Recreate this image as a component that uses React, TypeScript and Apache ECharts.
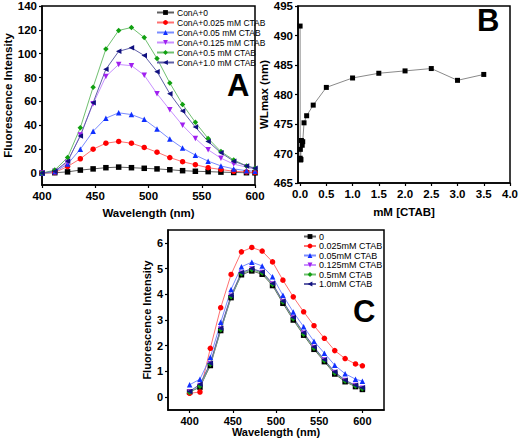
import React, { useEffect, useRef } from "react";
import * as echarts from "echarts";

// ---------- data ----------
const wavelengths = [400, 412, 424, 436, 448, 460, 472, 484, 496, 508, 520, 532, 544, 556, 568, 580, 592, 600];

const namesA = [
  "ConA+0",
  "ConA+0.025 mM CTAB",
  "ConA+0.05 mM CTAB",
  "ConA+0.125 mM CTAB",
  "ConA+0.5 mM CTAB",
  "ConA+1.0 mM CTAB",
];
const aConA0 = [0, 0.3, 1, 2.5, 3.5, 4.5, 5, 4.5, 4, 3.5, 2.8, 2, 1.5, 1.2, 0.8, 0.5, 0.3, 0.2];
const aCtab0025 = [0, 0.5, 5.5, 12, 20, 25, 26.5, 25, 21.5, 17.5, 13, 9.5, 7, 4.5, 3, 1.5, 1, 0.5];
const aCtab005 = [0, 1, 7.5, 20, 35, 46, 50.5, 49, 45, 37, 28.5, 21, 15, 10, 6, 3.5, 2, 1.5];
const aCtab0125 = [0, 1.5, 9, 32, 58, 81, 91, 90, 82, 66.5, 53, 40, 29, 19.5, 12.5, 7.5, 5, 3];
const aCtab05 = [0, 2.5, 13, 38, 72, 104, 119.5, 122, 113.5, 96, 75.5, 57.5, 42.5, 29, 18, 11, 6, 4];
const aCtab10 = [0, 1.5, 10, 31, 59, 87, 102, 105, 98.5, 85, 66.5, 52, 38.5, 26.5, 17, 10, 6, 4];

const ctabB = [0, 0.002, 0.005, 0.01, 0.015, 0.025, 0.04, 0.05, 0.075, 0.125, 0.25, 0.5, 1.0, 1.5, 2.0, 2.5, 3.0, 3.5];
const wlmaxB = [491.6, 469.2, 470.7, 468.9, 469.0, 472.2, 471.4, 472.0, 475.2, 476.4, 478.2, 481.2, 482.8, 483.6, 484.0, 484.4, 482.4, 483.4];

const namesC = ["0", "0.025mM CTAB", "0.05mM CTAB", "0.125mM CTAB", "0.5mM CTAB", "1.0mM CTAB"];
const c0 = [0.2, 0.39, 1.23, 2.59, 3.87, 4.76, 4.91, 4.78, 4.34, 3.65, 3.0, 2.41, 1.86, 1.38, 0.9, 0.6, 0.41, 0.3];
const c0025 = [0.15, 0.2, 1.9, 3.48, 4.77, 5.65, 5.82, 5.68, 5.26, 4.55, 3.9, 3.32, 2.78, 2.29, 1.81, 1.5, 1.29, 1.22];
const c005 = [0.48, 0.7, 1.55, 2.91, 4.19, 5.07, 5.25, 5.1, 4.68, 3.96, 3.31, 2.74, 2.17, 1.71, 1.24, 0.91, 0.7, 0.62];
const c0125 = [0.2, 0.45, 1.3, 2.65, 3.92, 4.82, 4.98, 4.85, 4.4, 3.72, 3.08, 2.48, 1.93, 1.44, 0.96, 0.65, 0.45, 0.35];
const c05 = [0.18, 0.42, 1.28, 2.62, 3.9, 4.8, 4.95, 4.83, 4.38, 3.7, 3.05, 2.45, 1.9, 1.42, 0.94, 0.63, 0.43, 0.33];
const c10 = [0.22, 0.5, 1.32, 2.68, 3.95, 4.85, 5.0, 4.87, 4.42, 3.73, 3.1, 2.5, 1.95, 1.45, 0.98, 0.66, 0.46, 0.37];

const xTicksA = [400, 450, 500, 550, 600];
const yTicksA = [0, 20, 40, 60, 80, 100, 120, 140];
const xTicksB = [0, 0.5, 1, 1.5, 2, 2.5, 3, 3.5, 4];
const yTicksB = [465, 470, 475, 480, 485, 490, 495];
const xTicksC = [400, 450, 500, 550, 600];
const yTicksC = [0, 1, 2, 3, 4, 5, 6];

// ---------- styles ----------
const styles = [
  { symbol: "rect", rotate: 0, color: "#000000", line: "#606060" },
  { symbol: "circle", rotate: 0, color: "#ff0000", line: "#ff7070" },
  { symbol: "triangle", rotate: 0, color: "#1030ff", line: "#7a8cff" },
  { symbol: "triangle", rotate: 180, color: "#a020f0", line: "#c890ff" },
  { symbol: "diamond", rotate: 0, color: "#10a010", line: "#70c070" },
  { symbol: "triangle", rotate: 90, color: "#101080", line: "#6060a8" },
];

const FONT = "'Liberation Sans', Arial, sans-serif";

function axisCommon(fontSize: number) {
  return {
    axisLine: { show: true, onZero: false, lineStyle: { color: "#000", width: 1.5 } },
    axisTick: { show: true, inside: false, length: 3, lineStyle: { color: "#000", width: 1.2 } },
    axisLabel: { color: "#000", fontWeight: "bold", fontSize, fontFamily: FONT, margin: 5 },
    splitLine: { show: false },
    nameLocation: "middle",
    nameTextStyle: { color: "#000", fontWeight: "bold", fontSize, fontFamily: FONT },
  };
}

function withTicks(base: any, ticks: number[], formatter?: (v: number) => string) {
  return {
    ...base,
    axisTick: { ...base.axisTick, customValues: ticks },
    axisLabel: { ...base.axisLabel, customValues: ticks, ...(formatter ? { formatter } : {}) },
  };
}

export default function App() {
  const ref = useRef<HTMLDivElement>(null);
  useEffect(() => {
    if (!ref.current) return;
    const chart = echarts.init(ref.current, undefined, { renderer: "svg" });
    const seriesA = [aConA0, aCtab0025, aCtab005, aCtab0125, aCtab05, aCtab10];
    const seriesC = [c0, c0025, c005, c0125, c05, c10];

    const mkLine = (name: string, data: number[], idx: number, st: any, size: number) => ({
      type: "line",
      name,
      xAxisIndex: idx,
      yAxisIndex: idx,
      data: wavelengths.map((w, i) => [w, data[i]]),
      symbol: st.symbol,
      symbolRotate: st.rotate,
      symbolSize: size,
      itemStyle: { color: st.color },
      lineStyle: { color: st.line, width: 1 },
      emphasis: { disabled: true },
    });

    const option: any = {
      animation: false,
      backgroundColor: "#fff",
      textStyle: { fontFamily: FONT },
      grid: [
        { left: 42, top: 6, width: 213, height: 179, show: true, borderColor: "#000", borderWidth: 1.5, backgroundColor: "transparent" },
        { left: 298, top: 5, width: 215, height: 178, show: true, borderColor: "#000", borderWidth: 1.5, backgroundColor: "transparent" },
        { left: 168, top: 230, width: 216, height: 180, show: true, borderColor: "#000", borderWidth: 1.5, backgroundColor: "transparent" },
      ],
      xAxis: [
        { ...withTicks(axisCommon(11.5), xTicksA), type: "value", gridIndex: 0, min: 400, max: 600, name: "Wavelength (nm)", nameGap: 22 },
        { ...withTicks(axisCommon(11.5), xTicksB, (v: number) => v.toFixed(1)), type: "value", gridIndex: 1, min: -0.04, max: 4, name: "mM [CTAB]", nameGap: 23 },
        { ...withTicks(axisCommon(11), xTicksC), type: "value", gridIndex: 2, min: 375, max: 625, name: "Wavelength (nm)", nameGap: 16 },
      ],
      yAxis: [
        { ...withTicks(axisCommon(11.5), yTicksA), type: "value", gridIndex: 0, min: -10, max: 140, name: "Fluorescence Intensity", nameGap: 24 },
        { ...withTicks(axisCommon(11.5), yTicksB), type: "value", gridIndex: 1, min: 465, max: 495, name: "WLmax (nm)", nameGap: 24 },
        { ...withTicks(axisCommon(11), yTicksC), type: "value", gridIndex: 2, min: -0.5, max: 6.5, name: "Fluorescence Intensity", nameGap: 16 },
      ],
      legend: [
        {
          data: namesA,
          orient: "vertical",
          left: 156,
          top: 8,
          itemWidth: 17,
          itemHeight: 6,
          itemGap: 1,
          padding: 0,
          textStyle: { fontSize: 8.5, color: "#000", fontFamily: FONT, lineHeight: 8, padding: [0, 0, 0, -2] },
          selectedMode: false,
        },
        {
          data: namesC,
          orient: "vertical",
          left: 303,
          top: 232,
          itemWidth: 12,
          itemHeight: 6,
          itemGap: 0.5,
          padding: 0,
          textStyle: { fontSize: 9, color: "#000", fontFamily: FONT, lineHeight: 8, padding: [0, 0, 0, -2] },
          selectedMode: false,
        },
      ],
      series: [
        ...namesA.map((n, i) => mkLine(n, seriesA[i], 0, styles[i], 5.5)),
        {
          type: "line",
          name: "WLmax",
          xAxisIndex: 1,
          yAxisIndex: 1,
          data: ctabB.map((c, i) => [c, wlmaxB[i]]),
          symbol: "rect",
          symbolSize: 5,
          itemStyle: { color: "#000" },
          lineStyle: { color: "#8a8a8a", width: 1 },
          emphasis: { disabled: true },
        },
        ...namesC.map((n, i) => mkLine(n, seriesC[i], 2, styles[i], 5.5)),
      ],
      graphic: [
        { type: "text", left: 227, top: 70, style: { text: "A", font: `bold 31px ${FONT}`, fill: "#000" } },
        { type: "text", left: 477, top: 5, style: { text: "B", font: `bold 31px ${FONT}`, fill: "#000" } },
        { type: "text", left: 353, top: 296, style: { text: "C", font: `bold 31px ${FONT}`, fill: "#000" } },
      ],
    };
    chart.setOption(option);
    return () => chart.dispose();
  }, []);
  return (
    <div
      ref={ref}
      style={{ position: "fixed", left: 0, top: 0, width: 521, height: 440, background: "#fff" }}
    />
  );
}
